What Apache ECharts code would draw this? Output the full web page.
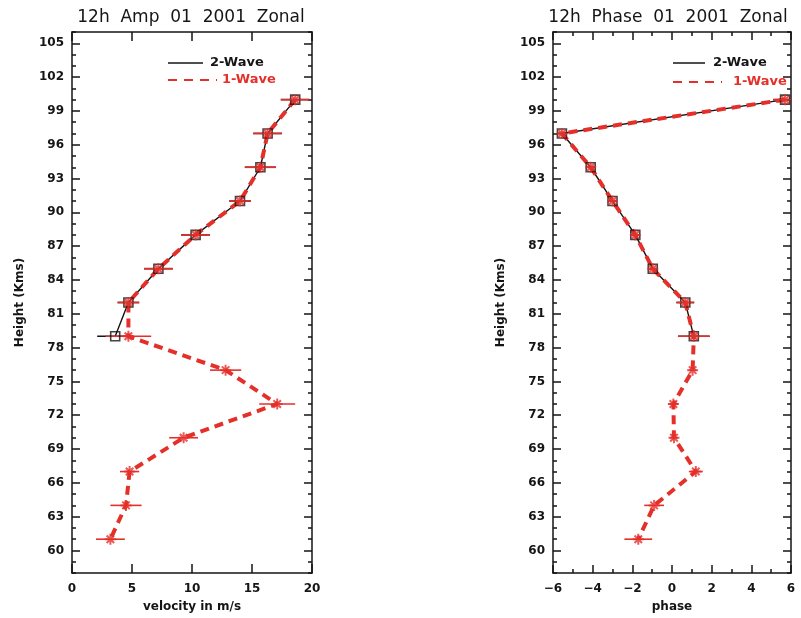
<!DOCTYPE html>
<html>
<head>
<meta charset="utf-8">
<script src="https://cdn.jsdelivr.net/npm/echarts@6/dist/echarts.min.js"></script>
<style>
  html, body { margin: 0; padding: 0; background: #fff; }
  #chart { width: 801px; height: 618px; }
</style>
</head>
<body>
<div id="chart"></div>
<script>
// Heights (km) of the profile points
const heights2 = [100, 97, 94, 91, 88, 85, 82, 79];
const heights1 = [100, 97, 94, 91, 88, 85, 82, 79, 76, 73, 70, 67, 64, 61];

// 12h amplitude (m/s) and half-width of the error bars
const amp2    = [18.6, 16.3, 15.7, 14.0, 10.3, 7.2, 4.7, 3.6];
const amp2Err = [1.2, 1.2, 1.3, 0.9, 1.2, 1.2, 0.9, 1.5];
const amp1    = [18.6, 16.3, 15.7, 14.0, 10.3, 7.2, 4.7, 4.7, 12.8, 17.1, 9.3, 4.8, 4.5, 3.2];
const amp1Err = [1.2, 1.2, 1.3, 0.9, 1.2, 1.2, 0.9, 1.9, 1.3, 1.5, 1.2, 0.8, 1.3, 1.2];

// 12h phase and half-width of the error bars
const phase2    = [5.7, -5.55, -4.1, -3.0, -1.85, -0.97, 0.67, 1.1];
const phase2Err = [0.6, 0.2, 0.2, 0.2, 0.2, 0.2, 0.45, 0.8];
const phase1    = [5.7, -5.55, -4.1, -3.0, -1.85, -0.97, 0.67, 1.1, 1.04, 0.07, 0.1, 1.2, -0.9, -1.7];
const phase1Err = [0.6, 0.2, 0.2, 0.2, 0.2, 0.2, 0.45, 0.8, 0.2, 0.25, 0.2, 0.35, 0.5, 0.7];

// Labelled height ticks
const heightTicks = [60, 63, 66, 69, 72, 75, 78, 81, 84, 87, 90, 93, 96, 99, 102, 105];

const titles = ['12h  Amp  01  2001  Zonal', '12h  Phase  01  2001  Zonal'];
const seriesNames = ['2-Wave', '1-Wave'];

const FONT = 'DejaVu Sans';
const INK = '#151515';
const RED = '#e5302a';

const pairs = (xs, ys) => xs.map((x, i) => [x, ys[i]]);
const bars = (xs, errs, ys) => xs.map((x, i) => [x - errs[i], x + errs[i], ys[i]]);

const labelStyle = { fontFamily: FONT, fontSize: 12, fontWeight: 'bold', color: INK };
const lineStyle = { color: INK, width: 1.5 };

function yAxesFor(grid) {
  const base = {
    gridIndex: grid, type: 'value', min: 58, max: 106,
    splitLine: { show: false }
  };
  return [
    // left edge, one tick per km
    Object.assign({}, base, {
      position: 'left', interval: 1,
      axisLine: { show: true, onZero: false, lineStyle },
      axisTick: { inside: true, length: 4, lineStyle },
      axisLabel: { show: false }
    }),
    // left edge, labelled ticks every 3 km
    Object.assign({}, base, {
      position: 'left',
      axisLine: { show: false, onZero: false },
      axisTick: { inside: true, length: 8, lineStyle, customValues: heightTicks },
      axisLabel: Object.assign({ customValues: heightTicks, margin: 8 }, labelStyle),
      name: 'Height (Kms)', nameLocation: 'middle', nameGap: 46, nameRotate: 90,
      nameTextStyle: { fontFamily: FONT, fontSize: 12, fontWeight: 'bold', color: INK }
    }),
    // right edge mirrors
    Object.assign({}, base, {
      position: 'right', interval: 1,
      axisLine: { show: true, onZero: false, lineStyle },
      axisTick: { inside: true, length: 4, lineStyle },
      axisLabel: { show: false }
    }),
    Object.assign({}, base, {
      position: 'right',
      axisLine: { show: false, onZero: false },
      axisTick: { inside: true, length: 8, lineStyle, customValues: heightTicks },
      axisLabel: { show: false }
    })
  ];
}

const minusFmt = v => String(v).replace('-', '\u2212');

const xAxes = [
  // left panel: velocity
  {
    gridIndex: 0, type: 'value', position: 'bottom', min: 0, max: 20, interval: 5,
    axisLine: { onZero: false, lineStyle }, splitLine: { show: false },
    axisTick: { inside: true, length: 9, lineStyle },
    axisLabel: Object.assign({ margin: 10 }, labelStyle),
    name: 'velocity in m/s', nameLocation: 'middle', nameGap: 28,
    nameTextStyle: { fontFamily: FONT, fontSize: 12, fontWeight: 'bold', color: INK }
  },
  {
    gridIndex: 0, type: 'value', position: 'top', min: 0, max: 20, interval: 5,
    axisLine: { onZero: false, lineStyle }, splitLine: { show: false },
    axisTick: { inside: true, length: 9, lineStyle }, axisLabel: { show: false }
  },
  // right panel: phase
  {
    gridIndex: 1, type: 'value', position: 'bottom', min: -6, max: 6, interval: 2,
    axisLine: { onZero: false, lineStyle }, splitLine: { show: false },
    axisTick: { inside: true, length: 8, lineStyle },
    axisLabel: Object.assign({ margin: 10, formatter: minusFmt }, labelStyle),
    name: 'phase', nameLocation: 'middle', nameGap: 28,
    nameTextStyle: { fontFamily: FONT, fontSize: 12, fontWeight: 'bold', color: INK }
  },
  {
    gridIndex: 1, type: 'value', position: 'bottom', min: -6, max: 6, interval: 1,
    axisLine: { show: false, onZero: false }, splitLine: { show: false },
    axisTick: { inside: true, length: 4, lineStyle }, axisLabel: { show: false }
  },
  {
    gridIndex: 1, type: 'value', position: 'top', min: -6, max: 6, interval: 2,
    axisLine: { onZero: false, lineStyle }, splitLine: { show: false },
    axisTick: { inside: true, length: 8, lineStyle }, axisLabel: { show: false }
  },
  {
    gridIndex: 1, type: 'value', position: 'top', min: -6, max: 6, interval: 1,
    axisLine: { show: false, onZero: false }, splitLine: { show: false },
    axisTick: { inside: true, length: 4, lineStyle }, axisLabel: { show: false }
  }
];

const yAxes = yAxesFor(0).concat(yAxesFor(1));

function errorBarRender(color) {
  return function (params, api) {
    const a = api.coord([api.value(0), api.value(2)]);
    const b = api.coord([api.value(1), api.value(2)]);
    return {
      type: 'line',
      shape: { x1: a[0], y1: a[1], x2: b[0], y2: b[1] },
      style: { stroke: color, lineWidth: 1.6 }
    };
  };
}

const asterisk = 'path://M5,0L5,10M0,5L10,5M1.6,1.6L8.4,8.4M1.6,8.4L8.4,1.6';

function panelSeries(xi, yi, v2, e2, v1, e1) {
  return [
    {
      name: seriesNames[0], type: 'line', xAxisIndex: xi, yAxisIndex: yi,
      data: pairs(v2, heights2), symbol: 'none', z: 2,
      lineStyle: { color: INK, width: 1.4 }
    },
    {
      type: 'custom', xAxisIndex: xi, yAxisIndex: yi, clip: true, z: 2,
      renderItem: errorBarRender(INK),
      encode: { x: [0, 1], y: 2 },
      data: bars(v2, e2, heights2)
    },
    {
      name: seriesNames[1], type: 'line', xAxisIndex: xi, yAxisIndex: yi,
      data: pairs(v1, heights1), symbol: 'none', z: 3,
      lineStyle: { color: RED, width: 4, type: [9, 6] }
    },
    {
      type: 'custom', xAxisIndex: xi, yAxisIndex: yi, clip: true, z: 3,
      renderItem: errorBarRender(RED),
      encode: { x: [0, 1], y: 2 },
      data: bars(v1, e1, heights1)
    },
    {
      type: 'scatter', xAxisIndex: xi, yAxisIndex: yi, z: 4,
      data: pairs(v2, heights2), symbol: 'rect', symbolSize: 9,
      itemStyle: { color: 'rgba(0,0,0,0)', borderColor: INK, borderWidth: 1.6 }
    },
    {
      type: 'scatter', xAxisIndex: xi, yAxisIndex: yi, z: 5,
      data: pairs(v1, heights1), symbol: asterisk, symbolSize: 11,
      itemStyle: { color: 'rgba(0,0,0,0)', borderColor: RED, borderWidth: 2 }
    }
  ];
}

function legendGraphics(x0, blackEnd, redEnd, textBlack, textRed, yBlack, yRed) {
  return [
    { type: 'line', shape: { x1: x0, y1: yBlack, x2: blackEnd, y2: yBlack },
      style: { stroke: INK, lineWidth: 1.5 } },
    { type: 'text', x: textBlack, y: yBlack,
      style: { text: seriesNames[0], fill: INK, font: 'bold 13px "' + FONT + '"', verticalAlign: 'middle' } },
    { type: 'line', shape: { x1: x0, y1: yRed, x2: redEnd, y2: yRed },
      style: { stroke: RED, lineWidth: 2, lineDash: [9, 7] } },
    { type: 'text', x: textRed, y: yRed,
      style: { text: seriesNames[1], fill: RED, font: 'bold 13px "' + FONT + '"', verticalAlign: 'middle' } }
  ];
}

const chart = echarts.init(document.getElementById('chart'), null, { renderer: 'canvas' });

chart.setOption({
  backgroundColor: '#ffffff',
  animation: false,
  grid: [
    { left: 72, right: 489, top: 32, bottom: 41 },
    { left: 553, right: 10, top: 32, bottom: 41 }
  ],
  xAxis: xAxes,
  yAxis: yAxes,
  series: panelSeries(0, 0, amp2, amp2Err, amp1, amp1Err)
    .concat(panelSeries(2, 4, phase2, phase2Err, phase1, phase1Err)),
  graphic: [
    { type: 'text', x: 191, y: 18,
      style: { text: titles[0], fill: INK, font: '17px "' + FONT + '"', align: 'center', verticalAlign: 'middle' } },
    { type: 'text', x: 668, y: 18,
      style: { text: titles[1], fill: INK, font: '17px "' + FONT + '"', align: 'center', verticalAlign: 'middle' } }
  ].concat(legendGraphics(168, 203, 217, 210, 222, 63, 80))
   .concat(legendGraphics(673, 705, 722, 713, 733, 63, 82))
});
</script>
</body>
</html>
